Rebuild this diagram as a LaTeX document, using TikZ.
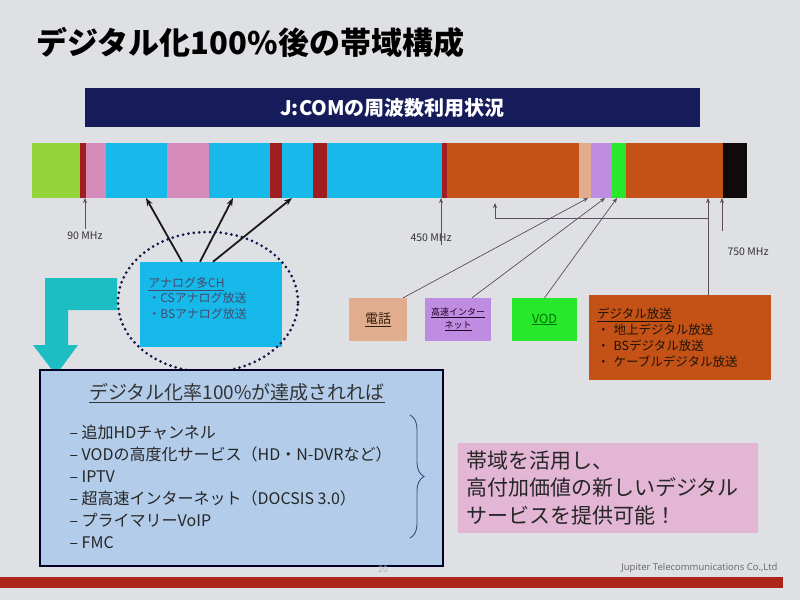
\documentclass[tikz,border=0pt]{standalone}
\usepackage{fontspec}
\setmainfont{Noto Sans CJK JP}
\newfontfamily\footfont{Open Sans}
\usepackage{xcolor}
\definecolor{bgray}{RGB}{222,224,227}
\definecolor{jnavy}{RGB}{22,28,90}
\definecolor{blime}{RGB}{150,212,62}
\definecolor{bdred}{RGB}{160,30,32}
\definecolor{bpink}{RGB}{214,140,186}
\definecolor{bcyan}{RGB}{22,185,234}
\definecolor{bbrown}{RGB}{196,82,22}
\definecolor{bpeach}{RGB}{226,172,142}
\definecolor{blav}{RGB}{190,140,224}
\definecolor{bgreen}{RGB}{40,232,44}
\definecolor{bblack}{RGB}{16,10,12}
\definecolor{tealarr}{RGB}{28,190,196}
\definecolor{goalblue}{RGB}{178,204,234}
\definecolor{gainpink}{RGB}{226,182,212}
\definecolor{footred}{RGB}{172,36,26}
\definecolor{tickgray}{RGB}{95,75,95}
\usetikzlibrary{arrows.meta,positioning,shapes.geometric,decorations.pathreplacing,calc}

\begin{document}
\begin{tikzpicture}[x=1pt, y=-1pt,
  svcbox/.style={rectangle, minimum width=58, minimum height=43, inner sep=2pt,
                 align=center},
  tarr/.style={-{Stealth[length=5pt, width=4pt]}, draw=tickgray, line width=0.7pt},
  aarr/.style={-{Stealth[length=8pt, width=6pt]}, draw=black!90, line width=1.8pt},
  mhz/.style={font=\fontsize{10.5}{12}\selectfont, text=black!80}
]
\useasboundingbox (0,0) rectangle (800,600);
\fill[bgray] (0,0) rectangle (800,600);

% Title
\node[anchor=west, font=\fontsize{31}{36}\selectfont\bfseries] (title) at (33,43)
  {デジタル化100\%後の帯域構成};
\node[rectangle, fill=jnavy, minimum width=615, minimum height=39, text=white,
      font=\fontsize{20}{24}\selectfont\bfseries] (hdr) at (392.5,107.5)
  {J:COMの周波数利用状況};

% Band
\foreach \xa/\xb/\col in {32/80/blime, 80/86/bdred, 86/106/bpink, 106/167/bcyan,
    167/209/bpink, 209/270/bcyan, 270/282/bdred, 282/313/bcyan, 313/327/bdred,
    327/442/bcyan, 442/447/bdred, 447/579/bbrown, 579/591/bpeach, 591/612/blav,
    612/626/bgreen, 626/723/bbrown, 723/747/bblack}
  \fill[\col] (\xa,143) rectangle (\xb,198);

\coordinate (f90)  at (85,198);
\coordinate (f450) at (441,198);
\coordinate (f750) at (722,198);
\coordinate (s750) at (722,231);
\coordinate (fa1)  at (146,198);
\coordinate (fa2)  at (233,198);
\coordinate (fa3)  at (292,198);
\coordinate (ftel) at (588,198);
\coordinate (fnet) at (605,198);
\coordinate (fvod) at (617,198);
\coordinate (fdig) at (708,198);
\coordinate (jn)   at (708,218);
\coordinate (fsrv) at (495,203);

% Frequency marks
\node[mhz] (l90)  at (85,236)  {90 MHz};
\node[mhz] (l450) at (431,238) {450 MHz};
\node[mhz] (l750) at (748,252) {750 MHz};
\draw[tarr] (l90.north) -- (f90);
\draw[tarr] (f450 |- l450.south) -- (f450);
\draw[tarr] (s750) -- (f750);

% Service boxes
\node[svcbox, fill=bpeach, font=\fontsize{13}{15}\selectfont, text=black!75!brown]
  (tel) at (378,319.5) {\underline{電話}};
\node[svcbox, fill=blav, minimum width=66, font=\fontsize{9}{13}\selectfont,
      text=black!70!violet] (net) at (458,319.5)
  {\underline{高速インター}\\\underline{ネット}};
\node[svcbox, fill=bgreen, minimum width=65, font=\fontsize{12.5}{15}\selectfont,
      text=green!45!black] (vod) at (544.5,319.5) {\underline{VOD}};
\node[rectangle, fill=bbrown, minimum width=182, minimum height=85, text width=166,
      inner sep=8pt, align=left, font=\fontsize{12.5}{16}\selectfont,
      text=black!85!brown] (dig) at (680,337.5)
  {\underline{デジタル放送}\\・ 地上デジタル放送\\・ BSデジタル放送\\・ ケーブルデジタル放送};

\draw[tarr] ([xshift=-4pt]tel.north east) -- (ftel);
\draw[tarr] ([xshift=14pt]net.north) -- (fnet);
\draw[tarr] (vod.north) -- (fvod);
\draw[tarr] (dig.north -| fdig) -- (fdig);
\draw[tarr] (jn) -| (fsrv);

% Analog channels
\fill[tealarr] (117,278) -- (45,278) -- (45,345) -- (33,345) -- (56,375)
  -- (78,345) -- (68,345) -- (68,310) -- (117,310) -- cycle;
\node[rectangle, fill=bcyan, minimum width=142, minimum height=85] (an) at (211,304.5) {};
\node[anchor=north west, align=left, font=\fontsize{12}{15.5}\selectfont,
      text=jnavy!55!gray] (antxt) at ([xshift=5pt,yshift=-12pt]an.north west)
  {\underline{アナログ多CH}\\・CSアナログ放送\\・BSアナログ放送};
\node[ellipse, draw=jnavy!80!black, line width=3pt, dash pattern=on 0pt off 5.4pt,
      line cap=round, minimum width=180, minimum height=140] (ring) at (208,302) {};
\draw[aarr] ([xshift=-29pt]an.north) -- (fa1);
\draw[aarr] ([xshift=-11pt]an.north) -- (fa2);
\draw[aarr] ([xshift=2pt]an.north) -- (fa3);

% Digital 100%
\node[rectangle, draw=black!85!blue, line width=2pt, fill=goalblue,
      minimum width=403, minimum height=196] (goal) at (241.5,468) {};
\node[font=\fontsize{19}{22}\selectfont, text=black!80] (goalhd) at (237,393)
  {\underline{デジタル化率100\%が達成されれば}};
\node[anchor=west, align=left, font=\fontsize{16}{22}\selectfont, text=black!85]
  (items) at (66,487)
  {– 追加HDチャンネル\\– VODの高度化サービス（HD・N-DVRなど）\\– IPTV\\
   – 超高速インターネット（DOCSIS 3.0）\\– プライマリーVoIP\\– FMC};
\coordinate (bt) at (410,415);
\coordinate (bb) at (410,538);
\draw[decorate, decoration={brace, amplitude=14pt}, draw=jnavy!80, line width=0.9pt]
  (bt) -- (bb);

\node[rectangle, fill=gainpink, minimum width=300, minimum height=90, text width=284,
      inner sep=8pt, align=left, font=\fontsize{21}{27.5}\selectfont, text=black!85]
  (gain) at (608,488) {帯域を活用し、\\高付加価値の新しいデジタル\\サービスを提供可能！};

% Footer
\node[font=\fontsize{9}{10}\selectfont, text=goalblue!70!gray] (pgno) at (383,569) {20};
\node[anchor=east, font=\footfont\fontsize{9.5}{11}\selectfont, text=black!60]
  (corp) at (781,568) {Jupiter Telecommunications Co.,Ltd};
\fill[footred] (0,577) rectangle (783,588);
\end{tikzpicture}
\end{document}
